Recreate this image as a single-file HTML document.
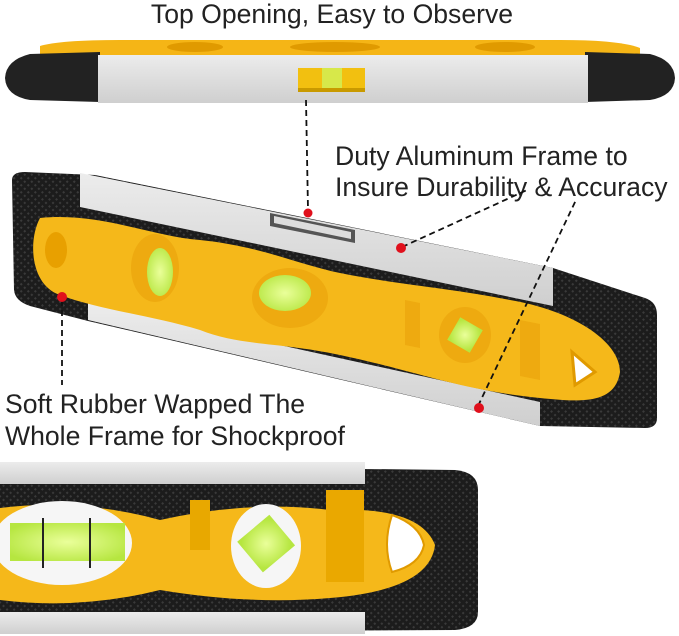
<!DOCTYPE html>
<html><head><meta charset="utf-8"><style>
html,body{margin:0;padding:0;background:#fff;}
svg{display:block}
text{font-family:"Liberation Sans",sans-serif;fill:#222;}
</style></head><body>
<svg width="679" height="636" viewBox="0 0 679 636" xmlns="http://www.w3.org/2000/svg">
<defs>
<pattern id="knurl" width="5" height="5" patternUnits="userSpaceOnUse" patternTransform="rotate(45)">
<rect width="5" height="5" fill="#1c1c1c"/><rect width="2" height="2" fill="#3a3a3a"/>
</pattern>
<linearGradient id="silv" x1="0" y1="0" x2="0" y2="1"><stop offset="0" stop-color="#ececec"/><stop offset="1" stop-color="#cfcfcf"/></linearGradient>
<radialGradient id="vial" cx="0.5" cy="0.5" r="0.6"><stop offset="0" stop-color="#eaff9a"/><stop offset="1" stop-color="#b6e640"/></radialGradient>
</defs>

<!-- TOP TEXT -->
<text x="332" y="23" font-size="26.6" text-anchor="middle">Top Opening,  Easy to Observe</text>

<!-- TOP LEVEL -->
<path d="M40 46 Q60 40 120 40 L560 40 Q620 40 640 48 L640 56 L40 56 Z" fill="#f5b516"/>
<ellipse cx="195" cy="47" rx="28" ry="5" fill="#e09a00"/>
<ellipse cx="335" cy="47" rx="45" ry="5" fill="#e09a00"/>
<ellipse cx="505" cy="47" rx="30" ry="5" fill="#e09a00"/>
<path d="M100 52 L30 54 Q6 60 5 78 Q6 96 30 100 L100 102 Z" fill="#222"/>
<path d="M585 52 L650 54 Q674 60 675 78 Q674 96 650 100 L585 102 Z" fill="#222"/>
<rect x="98" y="55" width="490" height="48" fill="url(#silv)"/>
<rect x="298" y="68" width="67" height="22" fill="#f2c010"/>
<rect x="322" y="68" width="20" height="20" fill="#d7e84a"/>
<rect x="298" y="88" width="67" height="4" fill="#c99a00"/>

<!-- MIDDLE LEVEL -->
<path d="M12 180 Q12 172 25 172 L95 175 L553 268 L645 298 Q657 302 657 315 L657 418 Q657 428 645 428 L540 426 L88 321 L30 306 Q15 301 14 290 Z" fill="url(#knurl)"/>
<path d="M80 173 L553 268 L553 306 L80 207 Z" fill="url(#silv)"/>
<path d="M88 303 L540 402 L540 426 L88 320 Z" fill="url(#silv)"/>
<path d="M270 213 L355 230 L355 243 L270 226 Z" fill="#555"/>
<path d="M274 216 L351 232 L351 239 L274 223 Z" fill="#ddd"/>
<path d="M40 218 C100 212 150 236 200 240 C260 246 300 265 340 273 C400 285 450 288 510 300 C570 310 620 340 620 372 C615 405 580 402 540 398 C460 390 420 372 340 355 C280 342 240 346 200 330 C150 315 100 310 60 295 C30 285 28 240 40 218 Z" fill="#f5b81a"/>
<ellipse cx="56" cy="250" rx="11" ry="18" fill="#e8a000"/>
<ellipse cx="155" cy="268" rx="24" ry="34" fill="#eeaa10"/>
<ellipse cx="160" cy="272" rx="13" ry="24" fill="url(#vial)"/>
<ellipse cx="290" cy="298" rx="38" ry="30" fill="#eeaa10"/>
<ellipse cx="285" cy="293" rx="26" ry="18" fill="url(#vial)"/>
<path d="M405 300 L420 303 L420 348 L405 345 Z" fill="#eeaa10"/>
<ellipse cx="465" cy="335" rx="26" ry="28" fill="#eeaa10"/>
<rect x="452" y="322" width="26" height="26" fill="url(#vial)" transform="rotate(30 465 335)"/>
<path d="M520 320 L540 324 L540 380 L520 376 Z" fill="#eeaa10"/>
<path d="M572 352 L595 372 L575 385 Z" fill="#fff" stroke="#e09a00" stroke-width="3"/>

<!-- LABELS -->
<text x="335" y="165" font-size="26.6">Duty Aluminum Frame to</text>
<text x="335" y="196" font-size="26.6">Insure Durability &amp; Accuracy</text>
<text x="5" y="413" font-size="26.6">Soft Rubber Wapped The</text>
<text x="5" y="445" font-size="26.6">Whole Frame for Shockproof</text>

<!-- CONNECTORS -->
<g stroke="#111" stroke-width="1.8" stroke-dasharray="6,4" fill="none">
<line x1="306" y1="100" x2="308" y2="210"/>
<line x1="402" y1="247" x2="527" y2="190"/>
<line x1="478" y1="406" x2="576" y2="200"/>
<line x1="62" y1="300" x2="62" y2="385"/>
</g>
<g fill="#e0101c">
<circle cx="308" cy="213" r="4.5"/>
<circle cx="401" cy="248" r="5"/>
<circle cx="479" cy="408" r="5"/>
<circle cx="62" cy="297" r="5"/>
</g>

<!-- BOTTOM LEVEL -->
<path d="M0 465 L455 470 Q478 472 478 490 L478 612 Q478 628 455 630 L0 632 Z" fill="url(#knurl)"/>
<rect x="0" y="462" width="365" height="22" fill="url(#silv)"/>
<rect x="0" y="612" width="365" height="22" fill="url(#silv)"/>
<path d="M0 508 Q80 498 160 520 Q250 500 330 510 Q420 506 435 545 Q430 590 330 598 Q250 605 160 590 Q80 610 0 600 Z" fill="#f5b81a"/>
<ellipse cx="62" cy="543" rx="70" ry="42" fill="#f6f6f6"/>
<rect x="10" y="523" width="115" height="38" fill="url(#vial)"/>
<line x1="43" y1="518" x2="43" y2="568" stroke="#222" stroke-width="2"/>
<line x1="90" y1="518" x2="90" y2="568" stroke="#222" stroke-width="2"/>
<rect x="190" y="500" width="20" height="50" fill="#e8a800"/>
<ellipse cx="266" cy="546" rx="35" ry="42" fill="#f6f6f6"/>
<rect x="246" y="524" width="42" height="40" fill="url(#vial)" transform="rotate(-40 266 545)"/>
<rect x="326" y="490" width="38" height="92" fill="#eaa800"/>
<path d="M392 515 Q420 525 424 545 Q420 565 392 572 Q382 545 392 515 Z" fill="#fff" stroke="#e09a00" stroke-width="2"/>
</svg>
</body></html>
